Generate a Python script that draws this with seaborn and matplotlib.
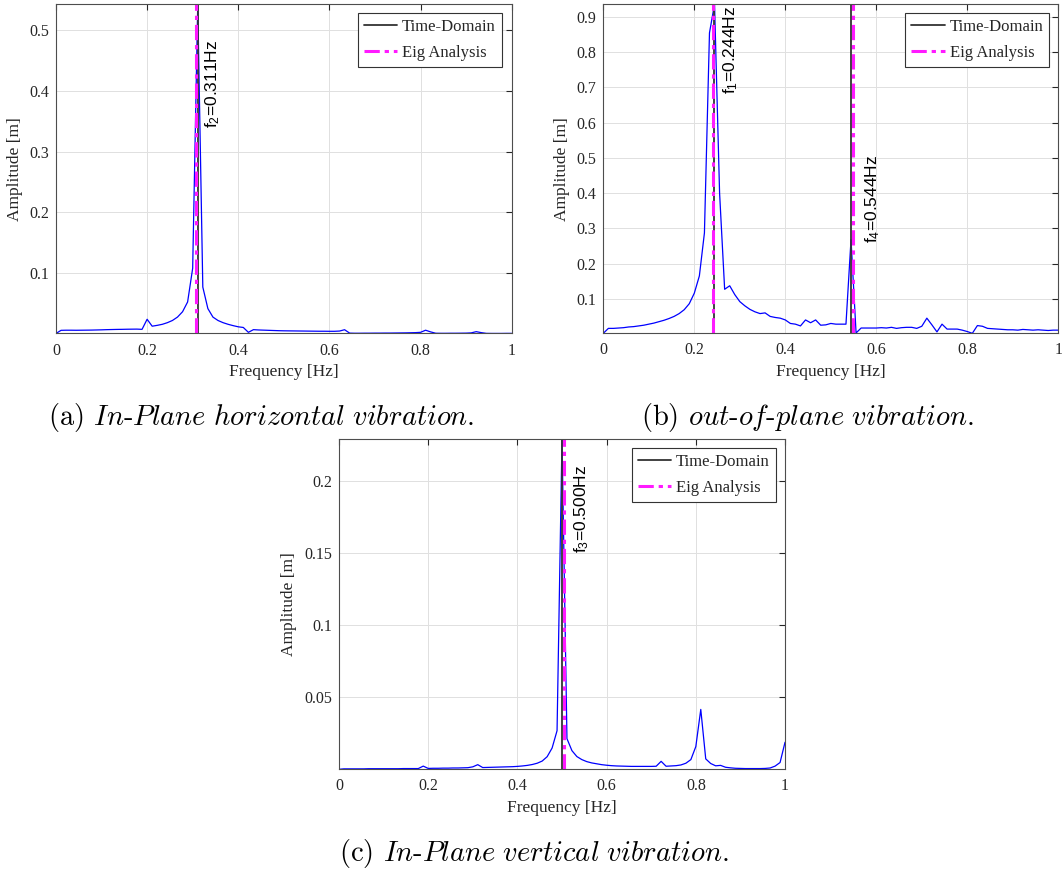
import numpy as np
import pandas as pd
import matplotlib
matplotlib.use("Agg")
import matplotlib.pyplot as plt
import seaborn as sns

# FFT frequency bins (resolution 1/90 Hz, 0..1 Hz)
freq = np.arange(91) / 90.0

# Amplitude spectra [m]
amp_inplane_h = [
    0.0006, 0.0058, 0.0060, 0.0060, 0.0059, 0.0060, 0.0061, 0.0062, 0.0064, 0.0066,
    0.0069, 0.0071, 0.0073, 0.0074, 0.0076, 0.0077, 0.0078, 0.0074, 0.0240, 0.0126,
    0.0140, 0.0157, 0.0184, 0.0220, 0.0276, 0.0364, 0.0525, 0.1080, 0.5430, 0.0770,
    0.0416, 0.0276, 0.0220, 0.0184, 0.0157, 0.0135, 0.0116, 0.0105, 0.0025, 0.0069,
    0.0064, 0.0061, 0.0058, 0.0055, 0.0052, 0.0050, 0.0049, 0.0048, 0.0047, 0.0046,
    0.0045, 0.0044, 0.0043, 0.0043, 0.0042, 0.0042, 0.0046, 0.0068, 0.0012, 0.0010,
    0.0010, 0.0011, 0.0011, 0.0012, 0.0012, 0.0013, 0.0013, 0.0014, 0.0015, 0.0016,
    0.0018, 0.0020, 0.0025, 0.0060, 0.0032, 0.0010, 0.0009, 0.0009, 0.0010, 0.0010,
    0.0011, 0.0012, 0.0016, 0.0036, 0.0020, 0.0008, 0.0007, 0.0007, 0.0007, 0.0008,
    0.0008,
]
amp_outplane = [
    0.002, 0.016, 0.016, 0.017, 0.018, 0.020, 0.021, 0.023, 0.025, 0.028,
    0.031, 0.035, 0.039, 0.044, 0.050, 0.058, 0.069, 0.086, 0.116, 0.165,
    0.287, 0.855, 0.937, 0.400, 0.127, 0.137, 0.112, 0.092, 0.080, 0.070,
    0.063, 0.058, 0.060, 0.050, 0.047, 0.045, 0.040, 0.030, 0.028, 0.023,
    0.040, 0.032, 0.040, 0.025, 0.026, 0.030, 0.028, 0.028, 0.028, 0.268,
    0.003, 0.017, 0.017, 0.017, 0.017, 0.018, 0.017, 0.019, 0.016, 0.018,
    0.019, 0.019, 0.016, 0.022, 0.045, 0.026, 0.006, 0.028, 0.014, 0.014,
    0.014, 0.011, 0.007, 0.002, 0.024, 0.022, 0.016, 0.015, 0.014, 0.013,
    0.012, 0.012, 0.011, 0.013, 0.012, 0.011, 0.012, 0.011, 0.010, 0.011,
    0.011,
]
amp_inplane_v = [
    0.0003, 0.0006, 0.0006, 0.0006, 0.0006, 0.0006, 0.0007, 0.0007, 0.0007, 0.0007,
    0.0007, 0.0007, 0.0007, 0.0008, 0.0008, 0.0008, 0.0008, 0.0025, 0.0009, 0.0010,
    0.0010, 0.0011, 0.0011, 0.0012, 0.0012, 0.0013, 0.0014, 0.0020, 0.0035, 0.0015,
    0.0016, 0.0017, 0.0018, 0.0019, 0.0020, 0.0021, 0.0023, 0.0026, 0.0030, 0.0036,
    0.0045, 0.0060, 0.0090, 0.0150, 0.0270, 0.2285, 0.0215, 0.0132, 0.0091, 0.0070,
    0.0056, 0.0047, 0.0041, 0.0035, 0.0031, 0.0028, 0.0026, 0.0025, 0.0024, 0.0023,
    0.0023, 0.0023, 0.0023, 0.0023, 0.0024, 0.0058, 0.0024, 0.0026, 0.0028, 0.0033,
    0.0045, 0.0070, 0.0160, 0.0417, 0.0075, 0.0043, 0.0027, 0.0030, 0.0017, 0.0013,
    0.0010, 0.0009, 0.0008, 0.0008, 0.0008, 0.0008, 0.0009, 0.0012, 0.0025, 0.0050,
    0.0190,
]

# Identified natural frequencies [Hz]
time_domain_f = {"a": [0.311], "b": [0.244, 0.544], "c": [0.500]}
eig_f = {"a": [0.308], "b": [0.240, 0.549], "c": [0.504]}
mode_names = {"a": ["f$_2$"], "b": ["f$_1$", "f$_4$"], "c": ["f$_3$"]}

y_ticks = {"a": [0.1, 0.2, 0.3, 0.4, 0.5],
           "b": [0.1, 0.2, 0.3, 0.4, 0.5, 0.6, 0.7, 0.8, 0.9],
           "c": [0.05, 0.1, 0.15, 0.2]}
y_tick_labels = {"a": ["0.1", "0.2", "0.3", "0.4", "0.5"],
                 "b": ["0.1", "0.2", "0.3", "0.4", "0.5", "0.6", "0.7", "0.8", "0.9"],
                 "c": ["0.05", "0.1", "0.15", "0.2"]}
x_ticks = [0, 0.2, 0.4, 0.6, 0.8, 1.0]
x_tick_labels = ["0", "0.2", "0.4", "0.6", "0.8", "1"]

captions = {
    "a": r"(a) $\mathit{In}$-$\mathit{Plane\ horizontal\ vibration.}$",
    "b": r"(b) $\mathit{out}$-$\mathit{of}$-$\mathit{plane\ vibration.}$",
    "c": r"(c) $\mathit{In}$-$\mathit{Plane\ vertical\ vibration.}$",
}

sns.set_theme(style="whitegrid")
plt.rcParams.update({
    "font.family": ["Liberation Serif", "DejaVu Serif"],
    "mathtext.fontset": "custom",
    "mathtext.rm": "Liberation Sans",
    "mathtext.it": "Liberation Sans:italic",
    "axes.edgecolor": "#4d4d4d",
    "axes.linewidth": 0.8,
    "grid.color": "#e0e0e0",
    "grid.linewidth": 0.7,
    "xtick.direction": "in",
    "ytick.direction": "in",
    "xtick.top": True,
    "ytick.right": True,
    "xtick.color": "#262626",
    "ytick.color": "#262626",
    "xtick.major.size": 4,
    "ytick.major.size": 4,
    "xtick.major.width": 0.8,
    "ytick.major.width": 0.8,
})

fig = plt.figure(figsize=(10.62, 8.73), dpi=100)

panels = {
    "a": dict(rect=[0.0527, 0.6180, 0.4291, 0.3774], amp=amp_inplane_h,
              ylab_x=-0.072, leg=(0.978, 0.972),
              txt=[(0.033, 0.339)]),
    "b": dict(rect=[0.5681, 0.6182, 0.4284, 0.3772], amp=amp_outplane,
              ylab_x=-0.073, leg=(0.980, 0.972),
              txt=[(0.035, 0.681), (0.048, 0.258)]),
    "c": dict(rect=[0.3192, 0.1188, 0.4200, 0.3780], amp=amp_inplane_v,
              ylab_x=-0.095, leg=(0.979, 0.973),
              txt=[(0.045, 0.150)]),
}

for key, p in panels.items():
    ax = fig.add_axes(p["rect"])
    df = pd.DataFrame({"Frequency": freq, "Amplitude": p["amp"]})
    sns.lineplot(data=df, x="Frequency", y="Amplitude", ax=ax,
                 color="#0000ff", linewidth=0.9, legend=False)

    handles = []
    for i, f in enumerate(time_domain_f[key]):
        h = ax.axvline(f, color="#333333", linewidth=1.3,
                       label="Time-Domain" if i == 0 else None)
        if i == 0:
            handles.append(h)
    for i, f in enumerate(eig_f[key]):
        h = ax.axvline(f, color="#ff1aff", linewidth=2.2,
                       linestyle=(0, (5, 1.6, 1.4, 1.6)),
                       label="Eig Analysis" if i == 0 else None)
        if i == 0:
            handles.append(h)

    for f, name, (dx, yb) in zip(time_domain_f[key], mode_names[key], p["txt"]):
        ax.text(f + dx, yb, f"{name}={f:.3f}Hz", rotation=90,
                ha="center", va="bottom", fontsize=12.5,
                family=["Liberation Sans", "DejaVu Sans"], color="black",
                math_fontfamily="custom")

    amp = np.asarray(p["amp"])
    ax.set_xlim(0, 1)
    ax.set_ylim(amp.min(), amp.max())
    ax.set_xticks(x_ticks)
    ax.set_xticklabels(x_tick_labels)
    ax.set_yticks(y_ticks[key])
    ax.set_yticklabels(y_tick_labels[key])
    ax.tick_params(axis="x", labelsize=11.5, pad=6.5)
    ax.tick_params(axis="y", labelsize=11.5, pad=5)
    ax.grid(True, which="major")
    ax.set_xlabel("Frequency [Hz]", fontsize=12.5, color="#262626")
    ax.set_ylabel("Amplitude [m]", fontsize=12.5, color="#262626")
    ax.xaxis.set_label_coords(0.5, -0.094)
    ax.yaxis.set_label_coords(p["ylab_x"], 0.5)
    for s in ax.spines.values():
        s.set_visible(True)
        s.set_color("#4d4d4d")

    leg = ax.legend(handles=handles, loc="upper right",
                    bbox_to_anchor=p["leg"], borderaxespad=0,
                    fontsize=12, frameon=True, fancybox=False,
                    framealpha=1, edgecolor="#333333", handlelength=2.0,
                    handletextpad=0.3, labelspacing=0.6, borderpad=0.35)
    leg.get_frame().set_linewidth(0.8)

cap_pos = {"a": (0.2462, 0.5223), "b": (0.7608, 0.5223), "c": (0.5030, 0.0229)}
for key, (cx, cy) in cap_pos.items():
    fig.text(cx, cy, captions[key], ha="center", va="center", fontsize=20.5,
             family="cmr10", math_fontfamily="cm", color="black")

fig.savefig("out.png", dpi=100)
